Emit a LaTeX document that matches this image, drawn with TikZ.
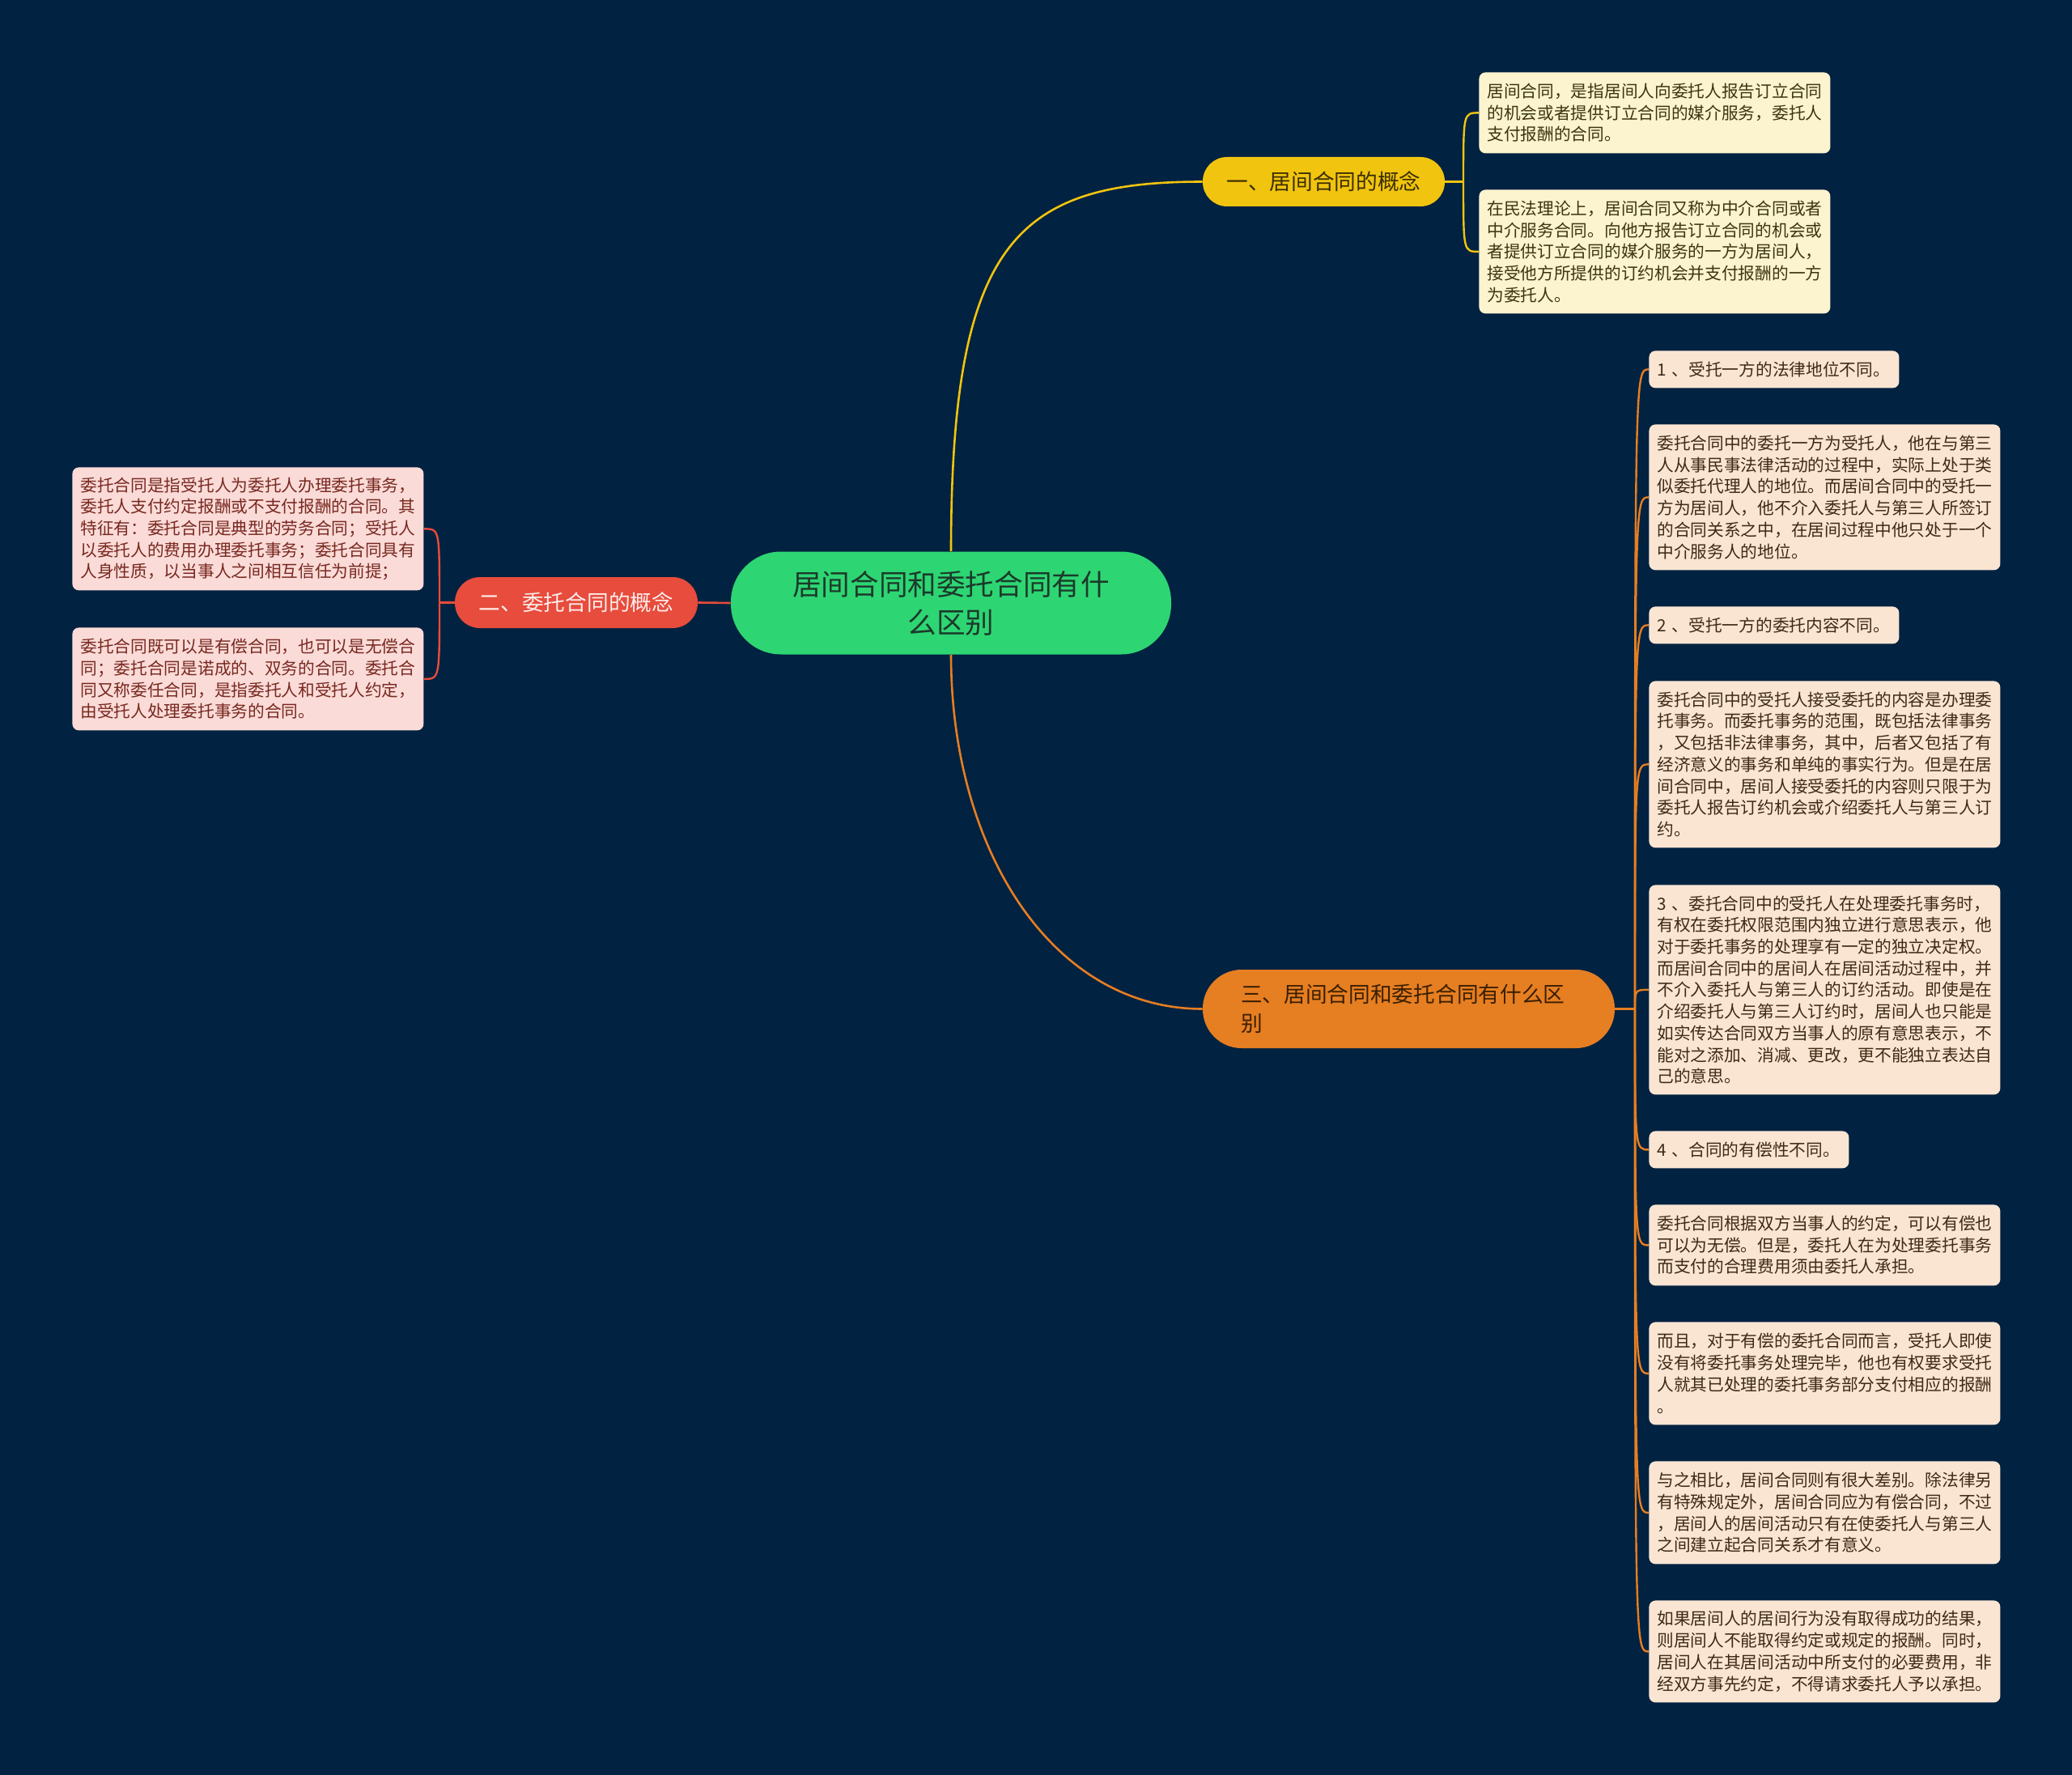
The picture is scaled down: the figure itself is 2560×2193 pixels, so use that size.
\documentclass[tikz,border=0pt]{standalone}
\usepackage{fontspec}
\setmainfont{Noto Sans CJK SC}
\definecolor{bg}{HTML}{012240}
\definecolor{cRoot}{HTML}{2ED573}
\definecolor{cYel}{HTML}{F1C40F}
\definecolor{cRed}{HTML}{E74C3C}
\definecolor{cOrg}{HTML}{E67E22}
\definecolor{fYel}{HTML}{FCF3CF}
\definecolor{fRed}{HTML}{FADBD8}
\definecolor{fOrg}{HTML}{FAE5D3}
\definecolor{tYel}{HTML}{3D3410}
\definecolor{tRed}{HTML}{78281F}
\definecolor{tOrg}{HTML}{3E2A14}
\definecolor{tRoot}{HTML}{1B3A2A}
\definecolor{tB1}{HTML}{3B2F00}
\definecolor{tB2}{HTML}{FDEDEC}
\definecolor{tB3}{HTML}{3A1F00}
\newcommand\leaffont{\fontsize{10.35pt}{13.35pt}\selectfont}
\newcommand\brfont{\fontsize{13.35pt}{18pt}\selectfont}
\newcommand\rtfont{\fontsize{17.8pt}{23.5pt}\selectfont}
\tikzset{
  leafbox/.style={rounded corners=4pt, inner xsep=5pt, inner ysep=0pt, anchor=north west, align=left, font=\leaffont},
  yleaf/.style={leafbox, fill=fYel, text=tYel},
  rleaf/.style={leafbox, fill=fRed, text=tRed},
  oleaf/.style={leafbox, fill=fOrg, text=tOrg},
  pill/.style={inner sep=0pt, font=\brfont},
  ylink/.style={draw=cYel, line width=1.2pt},
  rlink/.style={draw=cRed, line width=1.2pt},
  olink/.style={draw=cOrg, line width=1.2pt},
}
\begin{document}
\begin{tikzpicture}[x=0.5pt,y=-0.5pt]
\fill[bg] (0,0) rectangle (2560,2193);
\useasboundingbox (0,0) rectangle (2560,2193);

% root and branches
\node[pill, fill=cRoot, text=tRoot, font=\rtfont, align=center, minimum width=272pt, minimum height=63.5pt, rounded corners=31pt] (root) at (1175,745) {居间合同和委托合同有什\\么区别};
\node[pill, fill=cYel, text=tB1, minimum width=149.5pt, minimum height=30.5pt, rounded corners=15pt] (b1) at (1635.5,224.5) {一、居间合同的概念};
\node[pill, fill=cRed, text=tB2, minimum width=150pt, minimum height=31.5pt, rounded corners=15.5pt] (b2) at (712,744.5) {二、委托合同的概念};
\node[pill, fill=cOrg, text=tB3, align=left, text width=207.5pt, minimum width=254.5pt, minimum height=48.5pt, rounded corners=24pt] (b3) at (1740.5,1246.5) {三、居间合同和委托合同有什么区\\别};

% leaves of branch 1
\node[yleaf, text width=207pt, minimum height=50pt] (a1) at (1827,89) {居间合同，是指居间人向委托人报告订立合同\\的机会或者提供订立合同的媒介服务，委托人\\支付报酬的合同。};
\node[yleaf, text width=207pt, minimum height=76.5pt] (a2) at (1827,234) {在民法理论上，居间合同又称为中介合同或者\\中介服务合同。向他方报告订立合同的机会或\\者提供订立合同的媒介服务的一方为居间人，\\接受他方所提供的订约机会并支付报酬的一方\\为委托人。};

% leaves of branch 2
\node[rleaf, text width=207pt, minimum height=76pt] (l1) at (89,577) {委托合同是指受托人为委托人办理委托事务，\\委托人支付约定报酬或不支付报酬的合同。其\\特征有：委托合同是典型的劳务合同；受托人\\以委托人的费用办理委托事务；委托合同具有\\人身性质，以当事人之间相互信任为前提；};
\node[rleaf, text width=207pt, minimum height=63.5pt] (l2) at (89,775) {委托合同既可以是有偿合同，也可以是无偿合\\同；委托合同是诺成的、双务的合同。委托合\\同又称委任合同，是指委托人和受托人约定，\\由受托人处理委托事务的合同。};

% leaves of branch 3
\node[oleaf, text width=144.5pt, minimum height=23pt] (c1) at (2037,433) {1 、受托一方的法律地位不同。};
\node[oleaf, text width=207pt, minimum height=90pt] (c2) at (2037,524) {委托合同中的委托一方为受托人，他在与第三\\人从事民事法律活动的过程中，实际上处于类\\似委托代理人的地位。而居间合同中的受托一\\方为居间人，他不介入委托人与第三人所签订\\的合同关系之中，在居间过程中他只处于一个\\中介服务人的地位。};
\node[oleaf, text width=144.5pt, minimum height=23pt] (c3) at (2037,749) {2 、受托一方的委托内容不同。};
\node[oleaf, text width=207pt, minimum height=103pt] (c4) at (2037,841) {委托合同中的受托人接受委托的内容是办理委\\托事务。而委托事务的范围，既包括法律事务\\，又包括非法律事务，其中，后者又包括了有\\经济意义的事务和单纯的事实行为。但是在居\\间合同中，居间人接受委托的内容则只限于为\\委托人报告订约机会或介绍委托人与第三人订\\约。};
\node[oleaf, text width=207pt, minimum height=129.5pt] (c5) at (2037,1093) {3 、委托合同中的受托人在处理委托事务时，\\有权在委托权限范围内独立进行意思表示，他\\对于委托事务的处理享有一定的独立决定权。\\而居间合同中的居间人在居间活动过程中，并\\不介入委托人与第三人的订约活动。即使是在\\介绍委托人与第三人订约时，居间人也只能是\\如实传达合同双方当事人的原有意思表示，不\\能对之添加、消减、更改，更不能独立表达自\\己的意思。};
\node[oleaf, text width=113.5pt, minimum height=23pt] (c6) at (2037,1397) {4 、合同的有偿性不同。};
\node[oleaf, text width=207pt, minimum height=50pt] (c7) at (2037,1488) {委托合同根据双方当事人的约定，可以有偿也\\可以为无偿。但是，委托人在为处理委托事务\\而支付的合理费用须由委托人承担。};
\node[oleaf, text width=207pt, minimum height=63.5pt] (c8) at (2037,1633) {而且，对于有偿的委托合同而言，受托人即使\\没有将委托事务处理完毕，他也有权要求受托\\人就其已处理的委托事务部分支付相应的报酬\\。};
\node[oleaf, text width=207pt, minimum height=63.5pt] (c9) at (2037,1805) {与之相比，居间合同则有很大差别。除法律另\\有特殊规定外，居间合同应为有偿合同，不过\\，居间人的居间活动只有在使委托人与第三人\\之间建立起合同关系才有意义。};
\node[oleaf, text width=207pt, minimum height=63pt] (c10) at (2037,1977) {如果居间人的居间行为没有取得成功的结果，\\则居间人不能取得约定或规定的报酬。同时，\\居间人在其居间活动中所支付的必要费用，非\\经双方事先约定，不得请求委托人予以承担。};

% main connectors
\draw[ylink, line width=1.3pt] (root.north) .. controls (1175,300) and (1255,224.5) .. (b1.west);
\draw[olink, line width=1.3pt] (root.south) .. controls (1175,1050) and (1300,1246.5) .. (b3.west);
\draw[rlink, line width=1.3pt] (root.west) -- (b2.east);

% branch 1 brackets
\coordinate (j1) at (1808,224.5);
\draw[ylink] (b1.east) -- (j1);
\foreach \n in {a1,a2} \draw[ylink] (j1) .. controls (j1 |- \n.west) .. (\n.west);

% branch 2 brackets
\coordinate (j2) at (543,744.5);
\draw[rlink] (b2.west) -- (j2);
\foreach \n in {l1,l2} \draw[rlink] (j2) .. controls (j2 |- \n.east) .. (\n.east);

% branch 3 brackets
\coordinate (j3) at (2020,1246.5);
\draw[olink] (b3.east) -- (j3);
\foreach \n in {c1,c2,c3,c4,c5,c6,c7,c8,c9,c10} \draw[olink] (j3) .. controls (j3 |- \n.west) .. (\n.west);
\end{tikzpicture}
\end{document}
